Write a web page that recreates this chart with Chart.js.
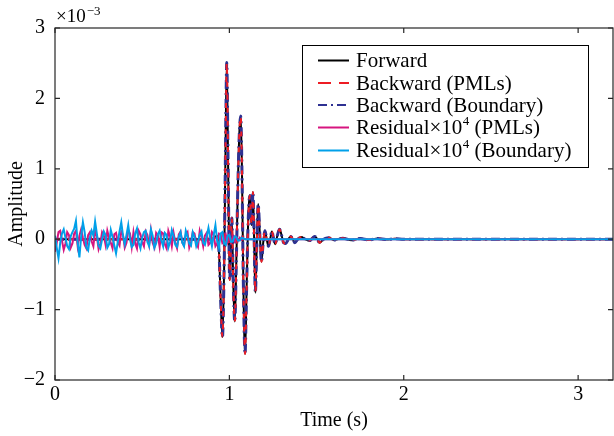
<!DOCTYPE html>
<html>
<head>
<meta charset="utf-8">
<script src="https://cdn.jsdelivr.net/npm/chart.js@4.4.1/dist/chart.umd.min.js"></script>
<style>
  html, body { margin: 0; padding: 0; background: #fff; }
  canvas { display: block; }
</style>
</head>
<body>
<canvas id="c" width="614" height="436"></canvas>
<script>
// ---------- data (amplitudes in units of 1e-3) ----------
const xTicks = [0, 1, 2, 3];
const yTicks = [-2, -1, 0, 1, 2, 3];
const seriesNames = ['Forward', 'Backward (PMLs)', 'Backward (Boundary)', 'Residual×10⁴ (PMLs)', 'Residual×10⁴ (Boundary)'];

const waveTime = [0, 0.90, 0.93, 0.94, 0.95, 0.96, 0.97, 0.978, 0.985, 0.993, 1.002, 1.008, 1.014, 1.022, 1.031, 1.040, 1.050, 1.058, 1.065, 1.072, 1.080, 1.090, 1.098, 1.106, 1.112, 1.118, 1.124, 1.129, 1.135, 1.142, 1.149, 1.157, 1.165, 1.175, 1.184, 1.194, 1.204, 1.214, 1.224, 1.234, 1.244, 1.254, 1.263, 1.275, 1.288, 1.300, 1.311, 1.323, 1.338, 1.352, 1.364, 1.375, 1.392, 1.413, 1.435, 1.460, 1.489, 1.505, 1.517, 1.540, 1.570, 1.600, 1.650, 1.700, 1.750, 1.800, 1.850, 1.900, 1.950, 2.000, 2.100, 3.200];
const forwardVals = [0, 0, 0.05, -0.15, -0.85, -1.39, -0.4, 1.3, 2.51, 1.0, -0.58, -0.2, 0.3, -0.6, -1.17, -0.3, 0.9, 1.55, 1.75, 1.0, -0.6, -1.63, -0.8, 0.1, 0.5, 0.62, 0.3, 0.2, 0.67, 0.0, -0.76, -0.1, 0.5, 0.05, -0.32, -0.05, 0.12, 0.0, -0.1, 0.0, 0.11, 0.0, -0.07, 0.05, 0.14, 0.05, -0.05, -0.06, 0.0, 0.04, 0.0, -0.05, 0.0, 0.03, 0.0, -0.02, 0.04, 0.0, -0.05, 0.0, 0.02, -0.01, 0.015, -0.015, 0.01, -0.01, 0.01, -0.005, 0.005, 0, 0, 0];
const backwardPMLVals = [0, 0, 0.05, -0.15, -0.85, -1.39, -0.4, 1.3, 2.51, 1.0, -0.58, -0.2, 0.3, -0.6, -1.17, -0.3, 0.9, 1.55, 1.75, 1.0, -0.6, -1.63, -0.8, 0.1, 0.5, 0.62, 0.3, 0.2, 0.67, 0.0, -0.76, -0.1, 0.5, 0.05, -0.32, -0.05, 0.12, 0.0, -0.1, 0.0, 0.11, 0.0, -0.07, 0.05, 0.14, 0.05, -0.05, -0.06, 0.0, 0.04, 0.0, -0.05, 0.0, 0.03, 0.0, -0.02, 0.04, 0.0, -0.05, 0.0, 0.02, -0.01, 0.015, -0.015, 0.01, -0.01, 0.01, -0.005, 0.005, 0, 0, 0];
const backwardBoundaryVals = [0, 0, 0.05, -0.15, -0.85, -1.39, -0.4, 1.3, 2.51, 1.0, -0.58, -0.2, 0.3, -0.6, -1.17, -0.3, 0.9, 1.55, 1.75, 1.0, -0.6, -1.63, -0.8, 0.1, 0.5, 0.62, 0.3, 0.2, 0.67, 0.0, -0.76, -0.1, 0.5, 0.05, -0.32, -0.05, 0.12, 0.0, -0.1, 0.0, 0.11, 0.0, -0.07, 0.05, 0.14, 0.05, -0.05, -0.06, 0.0, 0.04, 0.0, -0.05, 0.0, 0.03, 0.0, -0.02, 0.04, 0.0, -0.05, 0.0, 0.02, -0.01, 0.015, -0.015, 0.01, -0.01, 0.01, -0.005, 0.005, 0, 0, 0];

const residualTime = [0.00, 0.01, 0.02, 0.03, 0.04, 0.05, 0.06, 0.07, 0.08, 0.09, 0.10, 0.11, 0.12, 0.13, 0.14, 0.15, 0.16, 0.17, 0.18, 0.19, 0.20, 0.21, 0.22, 0.23, 0.24, 0.25, 0.26, 0.27, 0.28, 0.29, 0.30, 0.31, 0.32, 0.33, 0.34, 0.35, 0.36, 0.37, 0.38, 0.39, 0.40, 0.41, 0.42, 0.43, 0.44, 0.45, 0.46, 0.47, 0.48, 0.49, 0.50, 0.51, 0.52, 0.53, 0.54, 0.55, 0.56, 0.57, 0.58, 0.59, 0.60, 0.61, 0.62, 0.63, 0.64, 0.65, 0.66, 0.67, 0.68, 0.69, 0.70, 0.71, 0.72, 0.73, 0.74, 0.75, 0.76, 0.77, 0.78, 0.79, 0.80, 0.81, 0.82, 0.83, 0.84, 0.85, 0.86, 0.87, 0.88, 0.89, 0.90, 0.91, 0.92, 0.93, 0.94, 0.95, 0.96, 0.97, 0.98, 0.99, 1.00, 1.01, 1.02, 1.03, 1.04, 1.05, 1.06, 1.07, 1.08, 1.09, 1.10, 1.20, 3.20];
const residualPMLVals = [
  -0.18, -0.05, 0.1, 0.12, -0.02, -0.15, -0.06, 0.1, 0.06, -0.12,
  -0.06, 0.08, 0.12, -0.1, 0.05, 0.14, 0.02, -0.08, -0.13, 0.06,
  0.1, -0.03, -0.1, 0.12, 0.04, -0.14, -0.06, 0.1, 0.05, -0.08,
  0.12, 0.02, -0.05, -0.13, 0.07, 0.09, -0.04, -0.09, 0.11, 0.06,
  -0.12, -0.05, 0.13, 0.08, -0.11, 0.1, -0.06, -0.13, 0.12, 0.07,
  -0.04, -0.1, 0.11, 0.06, -0.08, 0.13, -0.05, -0.12, 0.09, 0.05,
  -0.11, 0.1, 0.08, -0.07, -0.13, 0.12, 0.04, -0.1, 0.09, -0.05,
  -0.13, 0.07, 0.11, -0.05, -0.09, 0.06, 0.1, -0.12, -0.04, 0.1,
  0.08, -0.06, -0.11, 0.12, 0.03, -0.1, 0.05, 0.09, -0.08, -0.05,
  0.1, 0.06, -0.1, -0.06, 0.08, 0.07, -0.06, -0.05, 0.06, -0.04,
  0.05, -0.03, 0.04, -0.03, 0.03, -0.02, 0.02, -0.01, 0.01, 0, 0,
  0, 0];
const residualBoundaryVals = [
  0.05, -0.12, -0.27, -0.05, 0.08, 0.14, 0.02, -0.1, -0.14, 0.04,
  0.1, 0.15, 0.26, -0.05, -0.26, 0.04, 0.24, 0.1, -0.12, -0.16,
  0.02, 0.12, 0.05, 0.25, 0.08, -0.09, -0.13, 0.0, 0.11, 0.06,
  -0.12, -0.07, 0.13, 0.03, -0.09, -0.2, -0.04, 0.11, 0.24, 0.05,
  -0.07, 0.06, 0.2, 0.0, -0.11, -0.08, 0.08, 0.15, -0.05, -0.13,
  0.02, 0.1, 0.12, -0.04, -0.1, 0.14, 0.05, -0.12, -0.06, 0.07,
  0.12, -0.02, -0.1, 0.09, 0.06, -0.12, -0.04, 0.13, 0.05, -0.08,
  -0.11, 0.03, 0.1, -0.05, -0.1, 0.12, 0.04, -0.06, -0.09, 0.1,
  0.03, -0.1, -0.03, 0.06, 0.11, -0.05, -0.08, 0.04, 0.16, 0.02,
  -0.1, 0.06, 0.2, -0.02, -0.12, 0.08, 0.1, -0.06, -0.08, 0.05,
  0.06, -0.04, -0.03, 0.04, 0.03, -0.02, -0.02, 0.02, 0.01, 0, 0,
  0, 0];

// ---------- helpers ----------
const pts = (xs, ys) => xs.map((x, i) => ({ x: x, y: ys[i] }));
const SERIF = '"Liberation Serif", "Times New Roman", Times, serif';
const AXIS_COLOR = '#262626';

const styles = [
  { color: '#000000', dash: [], width: 2, order: 4, mono: true },
  { color: '#ed1c24', dash: [5, 8], width: 2, order: 2, mono: true },
  { color: '#2e3192', dash: [9, 4, 2, 4], width: 3, order: 3, mono: true },
  { color: '#d6157f', dash: [], width: 2, order: 1, mono: false },
  { color: '#00a0e9', dash: [], width: 2, order: 0, mono: false }
];
const seriesData = [
  pts(waveTime, forwardVals),
  pts(waveTime, backwardPMLVals),
  pts(waveTime, backwardBoundaryVals),
  pts(residualTime, residualPMLVals),
  pts(residualTime, residualBoundaryVals)
];

const datasets = seriesNames.map((name, i) => ({
  label: name,
  data: seriesData[i],
  borderColor: styles[i].color,
  backgroundColor: styles[i].color,
  borderWidth: styles[i].width,
  borderDash: styles[i].dash,
  pointRadius: 0,
  fill: false,
  order: styles[i].order,
  cubicInterpolationMode: styles[i].mono ? 'monotone' : 'default',
  tension: 0
}));

// ---------- frame, inward ticks, exponent and legend ----------
const framePlugin = {
  id: 'frame',
  afterDraw(chart) {
    const { ctx, chartArea: a, scales } = chart;
    const xs = scales.x, ys = scales.y;
    ctx.save();
    ctx.strokeStyle = AXIS_COLOR;
    ctx.lineWidth = 1.2;
    ctx.setLineDash([]);
    ctx.strokeRect(a.left, a.top, a.right - a.left, a.bottom - a.top);
    const tl = 5;
    ctx.beginPath();
    xTicks.forEach(v => {
      const px = xs.getPixelForValue(v);
      ctx.moveTo(px, a.bottom); ctx.lineTo(px, a.bottom - tl);
      ctx.moveTo(px, a.top); ctx.lineTo(px, a.top + tl);
    });
    yTicks.forEach(v => {
      const py = ys.getPixelForValue(v);
      ctx.moveTo(a.left, py); ctx.lineTo(a.left + tl, py);
      ctx.moveTo(a.right, py); ctx.lineTo(a.right - tl, py);
    });
    ctx.stroke();

    // exponent label
    ctx.fillStyle = '#000';
    ctx.textBaseline = 'alphabetic';
    ctx.textAlign = 'left';
    ctx.font = '19px ' + SERIF;
    const base = '×10';
    ctx.fillText(base, a.left + 1, 22);
    const bw = ctx.measureText(base).width;
    ctx.font = '13px ' + SERIF;
    ctx.fillText('−3', a.left + 1 + bw + 1, 15);

    // legend
    const box = { x: 302, y: 45, w: 286, h: 122 };
    ctx.fillStyle = '#fff';
    ctx.fillRect(box.x, box.y, box.w, box.h);
    ctx.strokeStyle = '#000';
    ctx.lineWidth = 1;
    ctx.strokeRect(box.x + 0.5, box.y + 0.5, box.w, box.h);
    const rowsY = [60.5, 83, 105, 127.5, 150.5];
    const legendParts = [
      ['Forward'],
      ['Backward (PMLs)'],
      ['Backward (Boundary)'],
      ['Residual×10', '4', ' (PMLs)'],
      ['Residual×10', '4', ' (Boundary)']
    ];
    chart.data.datasets.forEach((ds, i) => {
      const y = rowsY[i];
      ctx.strokeStyle = ds.borderColor;
      ctx.lineWidth = 2;
      ctx.setLineDash(i === 1 ? [13, 8] : (i === 2 ? [9, 4, 2, 4] : []));
      ctx.beginPath();
      ctx.moveTo(318, y); ctx.lineTo(349, y);
      ctx.stroke();
      ctx.setLineDash([]);
      ctx.fillStyle = '#000';
      ctx.textBaseline = 'middle';
      let x = 356;
      const parts = legendParts[i];
      parts.forEach((p, k) => {
        if (parts.length === 3 && k === 1) {
          ctx.font = '13px ' + SERIF;
          ctx.fillText(p, x + 0.5, y - 6);
          x += ctx.measureText(p).width + 0.5;
        } else {
          ctx.font = '21px ' + SERIF;
          ctx.fillText(p, x, y + 1);
          x += ctx.measureText(p).width;
        }
      });
    });
    ctx.restore();
  }
};

new Chart(document.getElementById('c'), {
  type: 'line',
  data: { datasets: datasets },
  options: {
    responsive: false,
    animation: false,
    devicePixelRatio: 1,
    layout: { padding: { top: 28, right: 1, left: 0, bottom: 0 } },
    plugins: { legend: { display: false }, tooltip: { enabled: false } },
    scales: {
      x: {
        type: 'linear',
        min: 0, max: 3.2,
        afterFit: s => { s.height = 56; },
        afterBuildTicks: s => { s.ticks = xTicks.map(v => ({ value: v })); },
        grid: { display: false, drawTicks: false },
        border: { display: false },
        ticks: {
          padding: 3,
          color: '#000',
          font: { family: SERIF, size: 20 },
          maxRotation: 0,
          callback: v => String(v)
        },
        title: {
          display: true, text: 'Time (s)', color: '#000',
          font: { family: SERIF, size: 20 },
          padding: { top: 3, bottom: 3 }
        }
      },
      y: {
        type: 'linear',
        min: -2, max: 3,
        afterFit: s => { s.width = 55; },
        afterBuildTicks: s => { s.ticks = yTicks.map(v => ({ value: v })); },
        grid: { display: false, drawTicks: false },
        border: { display: false },
        ticks: {
          padding: 10,
          color: '#000',
          font: { family: SERIF, size: 20 },
          callback: v => String(v).replace('-', '−')
        },
        title: {
          display: true, text: 'Amplitude', color: '#000',
          font: { family: SERIF, size: 20 },
          padding: { top: 5, bottom: 5 }
        }
      }
    }
  },
  plugins: [framePlugin]
});
</script>
</body>
</html>
